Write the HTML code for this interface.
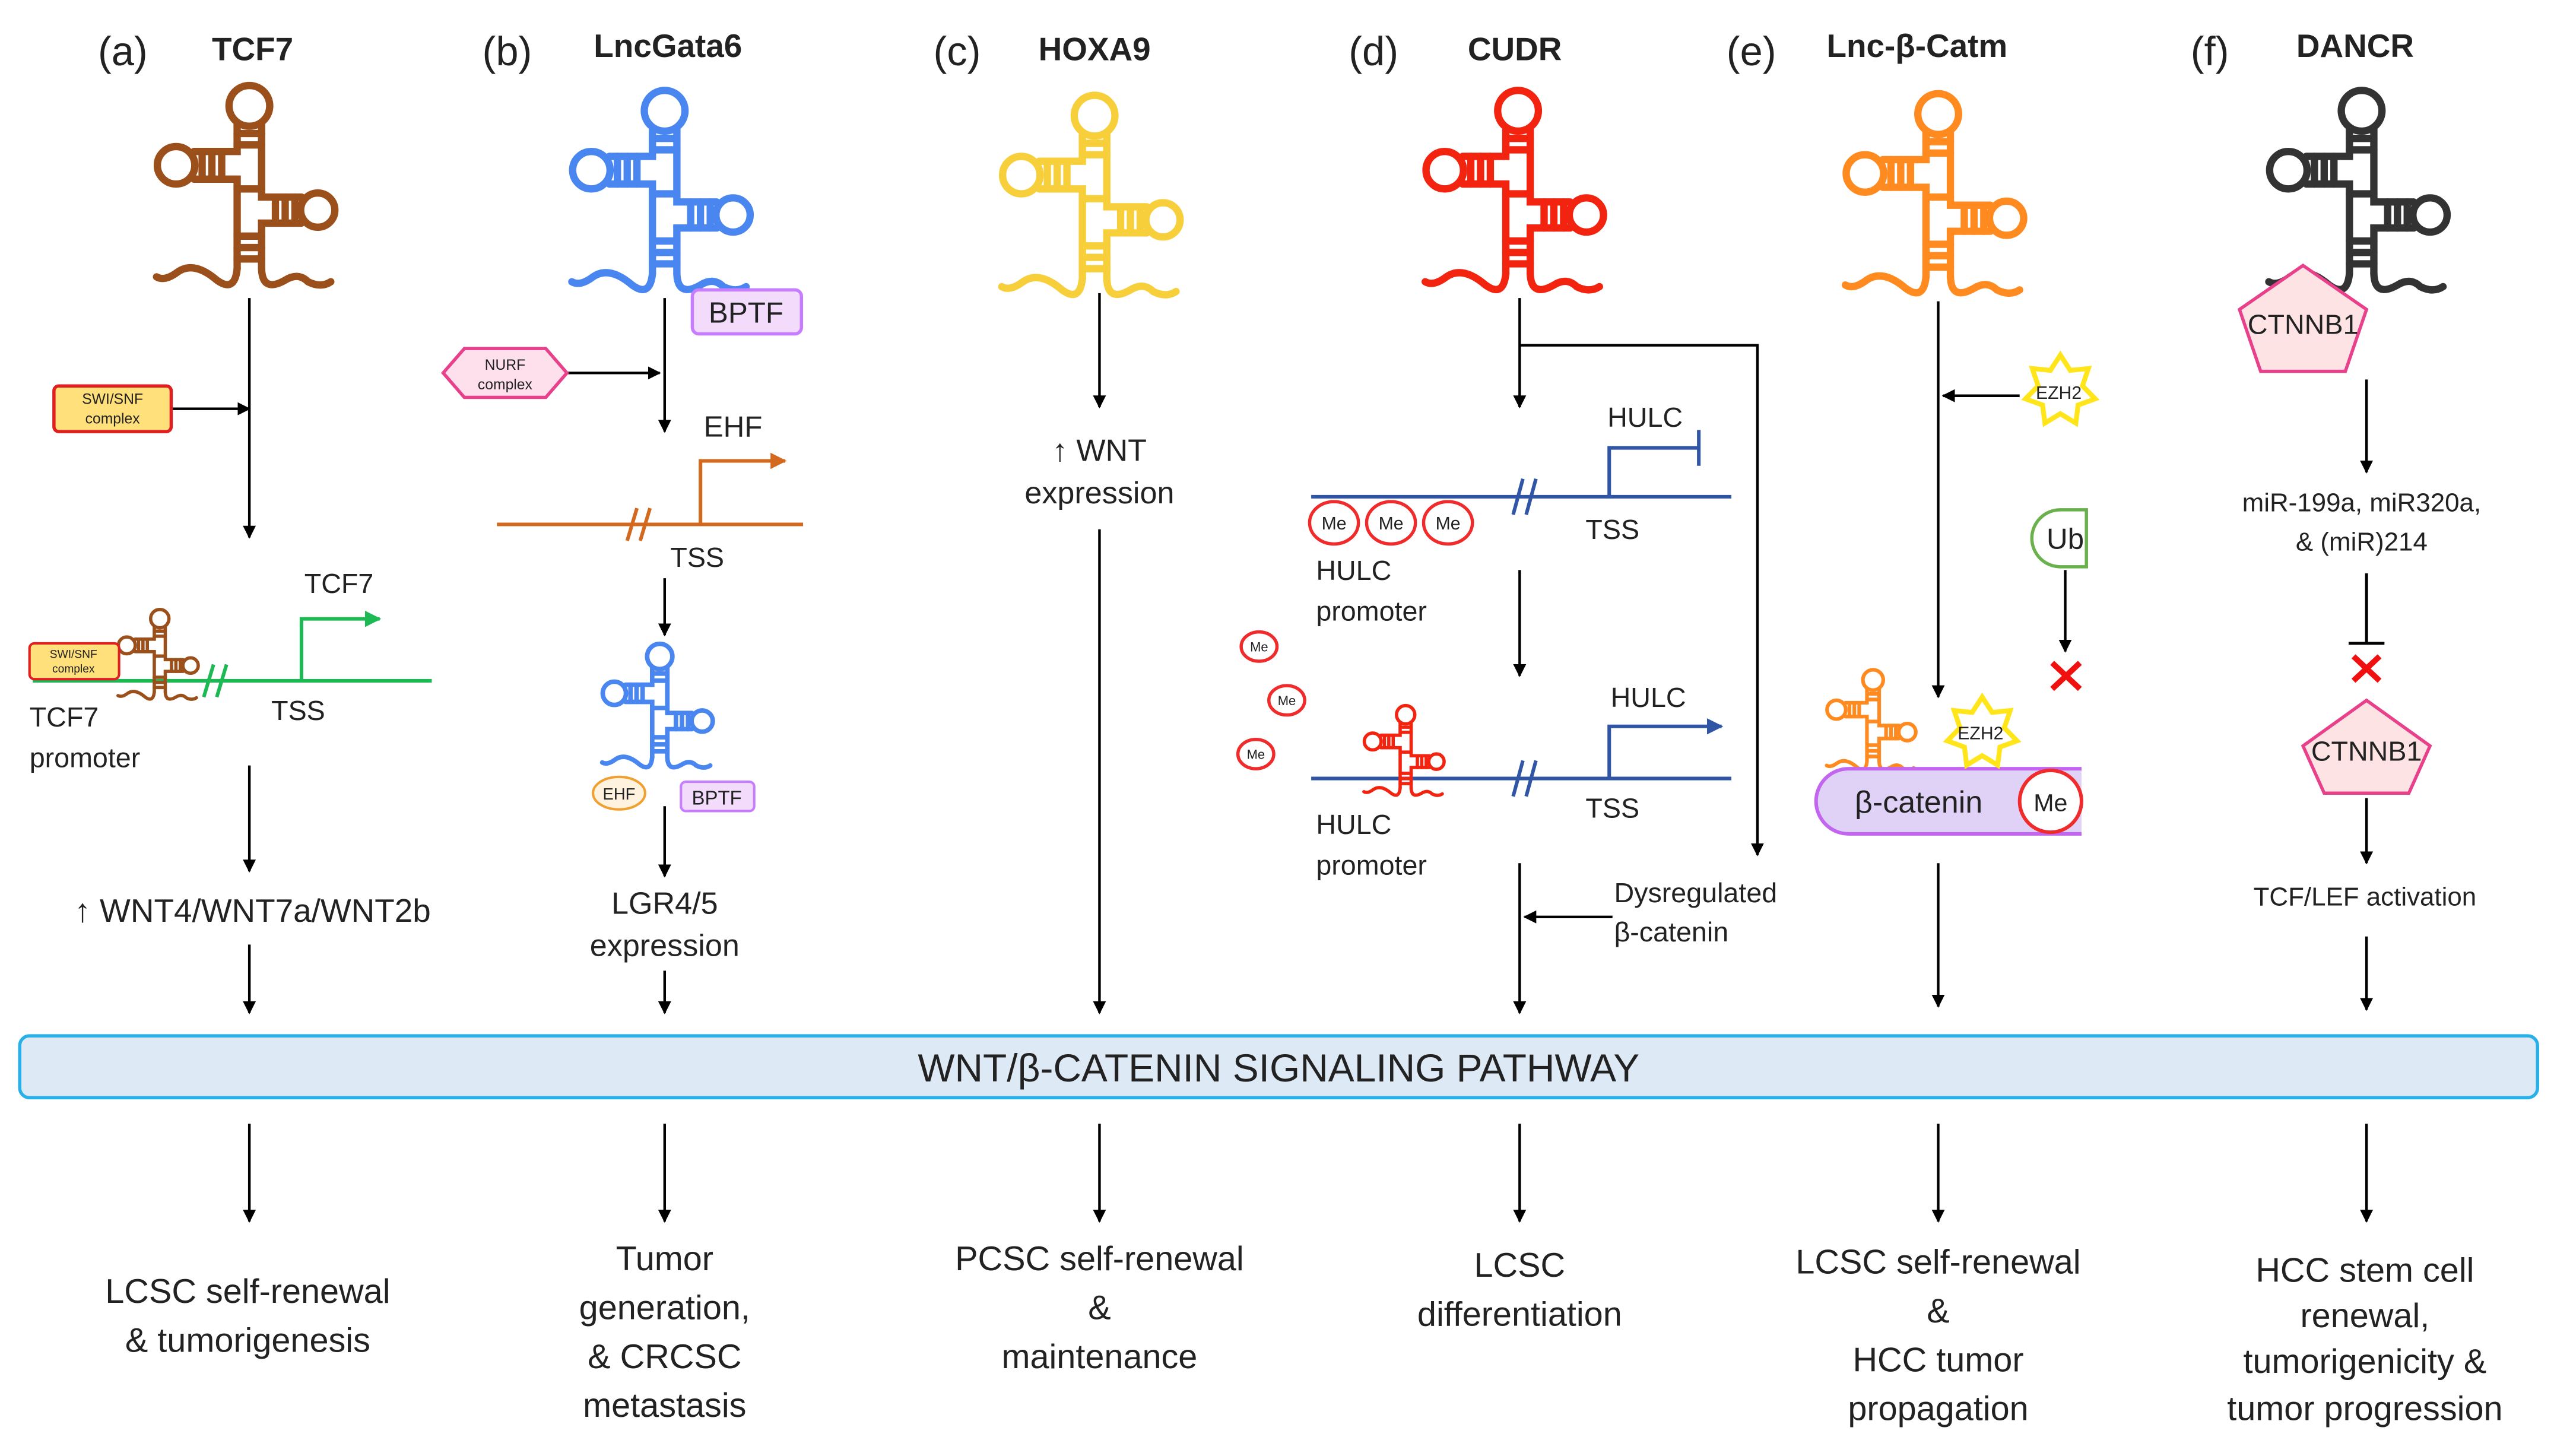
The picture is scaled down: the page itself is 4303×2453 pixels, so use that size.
<!DOCTYPE html>
<html><head><meta charset="utf-8"><style>
html,body{margin:0;padding:0;background:#fff;}
svg{display:block;}
text{font-family:"Liberation Sans",sans-serif;fill:#222;}
</style></head><body>
<svg width="4303" height="2453" viewBox="0 0 1568 894" xmlns="http://www.w3.org/2000/svg">
<defs>
<marker id="ah" viewBox="0 0 10 10" refX="9" refY="5" markerWidth="8" markerHeight="8" markerUnits="userSpaceOnUse" orient="auto"><path d="M0,0 L10,5 L0,10 z" fill="#000"/></marker>
<marker id="ahb" viewBox="0 0 10 10" refX="9" refY="5" markerWidth="10" markerHeight="10" markerUnits="userSpaceOnUse" orient="auto"><path d="M0,0 L10,5 L0,10 z" fill="#2f55a4"/></marker>
<marker id="aho" viewBox="0 0 10 10" refX="9" refY="5" markerWidth="10" markerHeight="10" markerUnits="userSpaceOnUse" orient="auto"><path d="M0,0 L10,5 L0,10 z" fill="#d2691e"/></marker>
<marker id="ahg" viewBox="0 0 10 10" refX="9" refY="5" markerWidth="10" markerHeight="10" markerUnits="userSpaceOnUse" orient="auto"><path d="M0,0 L10,5 L0,10 z" fill="#1db954"/></marker>
<symbol id="rna" overflow="visible">
<g fill="none" stroke="currentColor" stroke-width="4.5" stroke-linecap="round">
<circle cx="0" cy="13" r="12.5"/>
<path d="M-7.5,24 V41 H-34 M-34,58 H-7.5 V113"/>
<circle cx="-45" cy="49.5" r="11.5"/>
<path d="M7.5,24 V69 H32 M32,85 H7.5 V113"/>
<circle cx="42" cy="77" r="10.5"/>
<path d="M-7.5,30H7.5M-7.5,37H7.5M-7.5,64H7.5M-7.5,93H7.5M-7.5,100H7.5M-7.5,107H7.5M-29,41V58M-23,41V58M-17,41V58M16,69V85M22,69V85M28,69V85"/>
<path d="M-7.5,113 Q-9,128 -20,120 Q-34,108 -44,115 Q-52,121 -57,118 M7.5,113 Q8,128 22,120 Q30,115 36,121 Q44,125 50,121"/>
</g>
</symbol>
<symbol id="star" overflow="visible">
<path d="M0,-22 L6.1,-12.6 L17.2,-13.7 L13.6,-3.1 L21.4,4.9 L10.9,8.7 L9.5,19.8 L0,14 L-9.5,19.8 L-10.9,8.7 L-21.4,4.9 L-13.6,-3.1 L-17.2,-13.7 L-6.1,-12.6 Z" fill="#fff" stroke="#ffe51a" stroke-width="3"/>
</symbol>
</defs>

<g font-size="25">
<text x="60" y="40">(a)</text><text x="296" y="40">(b)</text><text x="573" y="40">(c)</text><text x="828" y="40">(d)</text><text x="1060" y="40">(e)</text><text x="1345" y="40">(f)</text>
</g>
<g font-size="20" font-weight="bold" text-anchor="middle">
<text x="155" y="37">TCF7</text><text x="410" y="35">LncGata6</text><text x="672" y="37">HOXA9</text><text x="930" y="37">CUDR</text><text x="1177" y="35">Lnc-β-Catm</text><text x="1446" y="35">DANCR</text>
</g>

<use href="#rna" x="153" y="52" color="#9b4f1a"/>
<use href="#rna" x="408" y="55" color="#4a86f0"/>
<use href="#rna" x="672" y="58" color="#f7cf3a"/>
<use href="#rna" x="932" y="55" color="#f2230f"/>
<use href="#rna" x="1190" y="57" color="#ff8a1f"/>
<use href="#rna" x="1450" y="55" color="#333"/>

<rect x="12" y="636" width="1546" height="38" rx="6" fill="#dde9f5" stroke="#2ab0e8" stroke-width="2"/>
<text x="785" y="664" font-size="24" text-anchor="middle">WNT/β-CATENIN SIGNALING PATHWAY</text>

<g stroke="#000" stroke-width="1.6" fill="none" marker-end="url(#ah)">
<path d="M153,690V750"/><path d="M408,690V750"/><path d="M675,690V750"/><path d="M933,690V750"/><path d="M1190,690V750"/><path d="M1453,690V750"/>
<path d="M153,183V330"/><path d="M105,251H153"/><path d="M153,470V535"/><path d="M153,580V622"/>
<path d="M408,183V265"/><path d="M348,229H405"/><path d="M408,355V390"/><path d="M408,495V538"/><path d="M408,596V622"/>
<path d="M675,180V250"/><path d="M675,325V622"/>
<path d="M933,183V250"/><path d="M933,212H1079V525"/><path d="M933,350V415"/><path d="M933,530V622"/><path d="M990,563H936"/>
<path d="M1190,185V428"/><path d="M1240,243H1193"/><path d="M1268,350V400"/><path d="M1190,530V618"/>
<path d="M1453,233V290"/><path d="M1453,490V530"/><path d="M1453,575V620"/>
</g>
<path d="M1453,352V395M1442,395H1464" stroke="#000" stroke-width="1.8" fill="none"/>

<rect x="33" y="237" width="72" height="28" rx="3" fill="#ffe07a" stroke="#e02020" stroke-width="2"/>
<text x="69" y="248" font-size="9" text-anchor="middle">SWI/SNF</text><text x="69" y="260" font-size="9" text-anchor="middle">complex</text>
<path d="M20,418H265" stroke="#1db954" stroke-width="2.2"/>
<path d="M125,428L131,408M133,428L139,408" stroke="#1db954" stroke-width="2.2"/>
<path d="M185,418V380H233" stroke="#1db954" stroke-width="2.2" fill="none" marker-end="url(#ahg)"/>
<use href="#rna" transform="translate(98,374) scale(0.45)" color="#9b4f1a"/>
<rect x="18" y="395" width="55" height="22" rx="3" fill="#ffe07a" stroke="#e02020" stroke-width="1.5"/>
<text x="45" y="404" font-size="7" text-anchor="middle">SWI/SNF</text><text x="45" y="413" font-size="7" text-anchor="middle">complex</text>
<text x="208" y="364" font-size="17" text-anchor="middle">TCF7</text>
<text x="183" y="442" font-size="17" text-anchor="middle">TSS</text>
<text x="18" y="446" font-size="17">TCF7</text><text x="18" y="471" font-size="17">promoter</text>
<text x="155" y="566" font-size="20" text-anchor="middle">↑ WNT4/WNT7a/WNT2b</text>
<g font-size="21" text-anchor="middle"><text x="152" y="800">LCSC self-renewal</text><text x="152" y="830">&amp; tumorigenesis</text></g>

<rect x="425" y="178" width="67" height="27" rx="4" fill="#f3dcfb" stroke="#c77dff" stroke-width="2"/>
<text x="458" y="198" font-size="18" text-anchor="middle">BPTF</text>
<path d="M272,229L285,214H335L348,229L335,244H285Z" fill="#fde0ec" stroke="#e8408a" stroke-width="2"/>
<text x="310" y="227" font-size="9" text-anchor="middle">NURF</text><text x="310" y="239" font-size="9" text-anchor="middle">complex</text>
<path d="M305,322H493" stroke="#d2691e" stroke-width="2.2"/>
<path d="M385,332L391,312M393,332L399,312" stroke="#d2691e" stroke-width="2.2"/>
<path d="M430,322V283H482" stroke="#d2691e" stroke-width="2.2" fill="none" marker-end="url(#aho)"/>
<text x="450" y="268" font-size="18" text-anchor="middle">EHF</text>
<text x="428" y="348" font-size="17" text-anchor="middle">TSS</text>
<use href="#rna" transform="translate(405,395) scale(0.62)" color="#4a86f0"/>
<ellipse cx="380" cy="487" rx="16" ry="10" fill="#fff3e0" stroke="#f0a030" stroke-width="1.5"/>
<text x="380" y="491" font-size="10" text-anchor="middle">EHF</text>
<rect x="418" y="480" width="45" height="18" rx="3" fill="#f3dcfb" stroke="#c77dff" stroke-width="1.5"/>
<text x="440" y="494" font-size="12" text-anchor="middle">BPTF</text>
<g font-size="19" text-anchor="middle"><text x="408" y="561">LGR4/5</text><text x="408" y="587">expression</text></g>
<g font-size="21" text-anchor="middle"><text x="408" y="780">Tumor</text><text x="408" y="810">generation,</text><text x="408" y="840">&amp; CRCSC</text><text x="408" y="870">metastasis</text></g>

<g font-size="19" text-anchor="middle"><text x="675" y="283">↑ WNT</text><text x="675" y="309">expression</text></g>
<g font-size="21" text-anchor="middle"><text x="675" y="780">PCSC self-renewal</text><text x="675" y="810">&amp;</text><text x="675" y="840">maintenance</text></g>

<g stroke="#2f55a4" stroke-width="2.2" fill="none">
<path d="M805,305H1063"/><path d="M929,316L935,294M937,316L943,294"/>
<path d="M988,305V275H1043M1043,264V286"/>
<path d="M805,478H1063"/><path d="M929,489L935,467M937,489L943,467"/>
<path d="M988,478V446H1057" marker-end="url(#ahb)"/>
</g>
<text x="1010" y="262" font-size="17" text-anchor="middle">HULC</text>
<text x="990" y="331" font-size="17" text-anchor="middle">TSS</text>
<text x="1012" y="434" font-size="17" text-anchor="middle">HULC</text>
<text x="990" y="502" font-size="17" text-anchor="middle">TSS</text>
<g fill="#fff" stroke="#ef2b2b" stroke-width="2">
<ellipse cx="819" cy="321" rx="15" ry="13"/><ellipse cx="854" cy="321" rx="15" ry="13"/><ellipse cx="889" cy="321" rx="15" ry="13"/>
<ellipse cx="773" cy="397" rx="11" ry="9"/><ellipse cx="790" cy="430" rx="11" ry="9"/><ellipse cx="771" cy="463" rx="11" ry="9"/>
</g>
<g font-size="11" text-anchor="middle"><text x="819" y="325">Me</text><text x="854" y="325">Me</text><text x="889" y="325">Me</text></g>
<g font-size="8" text-anchor="middle"><text x="773" y="400">Me</text><text x="790" y="433">Me</text><text x="771" y="466">Me</text></g>
<use href="#rna" transform="translate(863,433) scale(0.45)" color="#f2230f"/>
<g font-size="17"><text x="808" y="356">HULC</text><text x="808" y="381">promoter</text><text x="808" y="512">HULC</text><text x="808" y="537">promoter</text>
<text x="991" y="554">Dysregulated</text><text x="991" y="578">β-catenin</text></g>
<g font-size="21" text-anchor="middle"><text x="933" y="784">LCSC</text><text x="933" y="814">differentiation</text></g>

<use href="#star" x="1265" y="240"/>
<text x="1264" y="245" font-size="11" text-anchor="middle">EZH2</text>
<path d="M1281,313V348H1265A17,17 0 0 1 1265,313Z" fill="#fff" stroke="#6ab04c" stroke-width="2"/>
<text x="1268" y="337" font-size="18" text-anchor="middle">Ub</text>
<path d="M1260,407L1277,423M1277,407L1260,423" stroke="#f01010" stroke-width="3.5"/>
<use href="#rna" transform="translate(1150,411) scale(0.5)" color="#ff8a1f"/>
<path d="M1278,472H1135A20,20 0 0 0 1135,512H1278" fill="#e0d2f7" stroke="#c266f0" stroke-width="2.2"/>
<use href="#star" x="1217" y="450"/>
<text x="1216" y="454" font-size="11" text-anchor="middle">EZH2</text>
<ellipse cx="1259" cy="492" rx="19" ry="19" fill="#fff" stroke="#ef2b2b" stroke-width="2.2"/>
<text x="1259" y="498" font-size="15" text-anchor="middle">Me</text>
<text x="1178" y="499" font-size="19" text-anchor="middle">β-catenin</text>
<g font-size="21" text-anchor="middle"><text x="1190" y="782">LCSC self-renewal</text><text x="1190" y="812">&amp;</text><text x="1190" y="842">HCC tumor</text><text x="1190" y="872">propagation</text></g>

<path d="M1414,163L1453,190L1440,228H1388L1375,190Z" fill="#fde3e3" stroke="#e8408a" stroke-width="2"/>
<text x="1414" y="205" font-size="17" text-anchor="middle">CTNNB1</text>
<g font-size="16" text-anchor="middle"><text x="1450" y="314">miR-199a, miR320a,</text><text x="1450" y="338">&amp;  (miR)214</text></g>
<path d="M1445,403L1461,418M1461,403L1445,418" stroke="#f01010" stroke-width="3.5"/>
<path d="M1453,430L1492,458L1479,487H1427L1414,458Z" fill="#fde3e3" stroke="#e8408a" stroke-width="2"/>
<text x="1453" y="467" font-size="17" text-anchor="middle">CTNNB1</text>
<text x="1452" y="556" font-size="16" text-anchor="middle">TCF/LEF activation</text>
<g font-size="21" text-anchor="middle"><text x="1452" y="787">HCC stem cell</text><text x="1452" y="815">renewal,</text><text x="1452" y="843">tumorigenicity &amp;</text><text x="1452" y="872">tumor progression</text></g>
</svg>
</body></html>
